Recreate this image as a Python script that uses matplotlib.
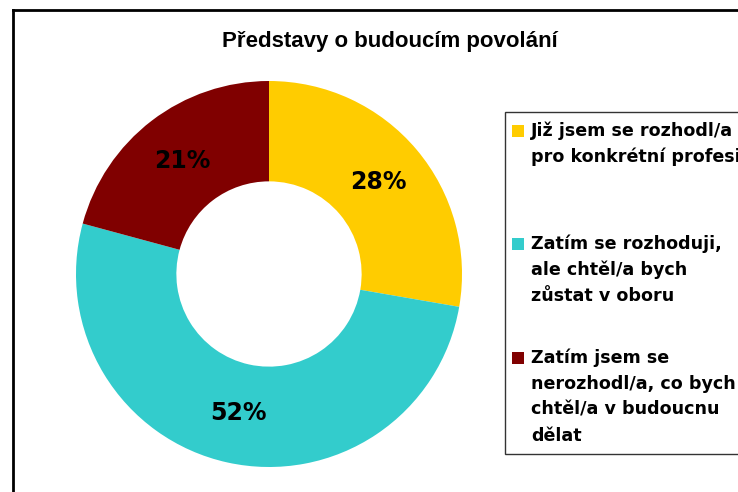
import matplotlib
matplotlib.use("Agg")
import matplotlib.pyplot as plt
from matplotlib.patches import Rectangle
from matplotlib.lines import Line2D

title = "Představy o budoucím povolání"
categories = [
    "Již jsem se rozhodl/a\npro konkrétní profesi",
    "Zatím se rozhoduji,\nale chtěl/a bych\nzůstat v oboru",
    "Zatím jsem se\nnerozhodl/a, co bych\nchtěl/a v budoucnu\ndělat",
]
values = [28, 52, 21]
colors = ["#FFCC00", "#33CCCC", "#800000"]

W, H = 738, 492
fig = plt.figure(figsize=(W / 100, H / 100), dpi=100)
fig.patch.set_facecolor("white")

def fx(px):
    return px / W

def fy(py):
    return 1 - py / H

# outer frame (left and top edges visible, others cut off)
fig.add_artist(Line2D([fx(13), fx(13)], [fy(10), fy(H + 5)], color="black", lw=2, transform=fig.transFigure))
fig.add_artist(Line2D([fx(13), fx(W + 5)], [fy(10), fy(10)], color="black", lw=2, transform=fig.transFigure))

# donut
cx, cy, R = 269, 274, 193
ax = fig.add_axes([fx(cx - R), fy(cy + R), 2 * R / W, 2 * R / H])
wedges, texts = ax.pie(
    values,
    colors=colors,
    startangle=90,
    counterclock=False,
    radius=1.0,
    labels=[f"{v}%" for v in values],
    labeldistance=0.74,
    wedgeprops=dict(width=0.52, linewidth=0),
    textprops=dict(fontsize=17, fontweight="bold", family="DejaVu Sans", color="black"),
)
for t in texts:
    t.set_ha("center")
    t.set_va("center")
ax.set_xlim(-1, 1)
ax.set_ylim(-1, 1)
ax.set_aspect("equal")
ax.axis("off")

# title
fig.text(fx(390), fy(41), title, ha="center", va="center", fontsize=16,
         fontweight="bold", family="Liberation Sans")

# legend box
fig.add_artist(Rectangle((fx(505), fy(454)), fx(W + 20) - fx(505), fy(112) - fy(454),
                         transform=fig.transFigure, facecolor="white",
                         edgecolor="#333333", lw=1.0))
entry_tops = [131, 244, 358]
line_h = 26
for lab, col, top in zip(categories, colors, entry_tops):
    fig.add_artist(Rectangle((fx(512), fy(top + 6)), 12 / W, 12 / H,
                             transform=fig.transFigure, facecolor=col, edgecolor="none"))
    for i, line in enumerate(lab.split("\n")):
        fig.text(fx(531), fy(top + i * line_h), line, ha="left", va="center",
                 fontsize=12.6, fontweight="bold", family="DejaVu Sans")

fig.savefig("out.png", dpi=100)
